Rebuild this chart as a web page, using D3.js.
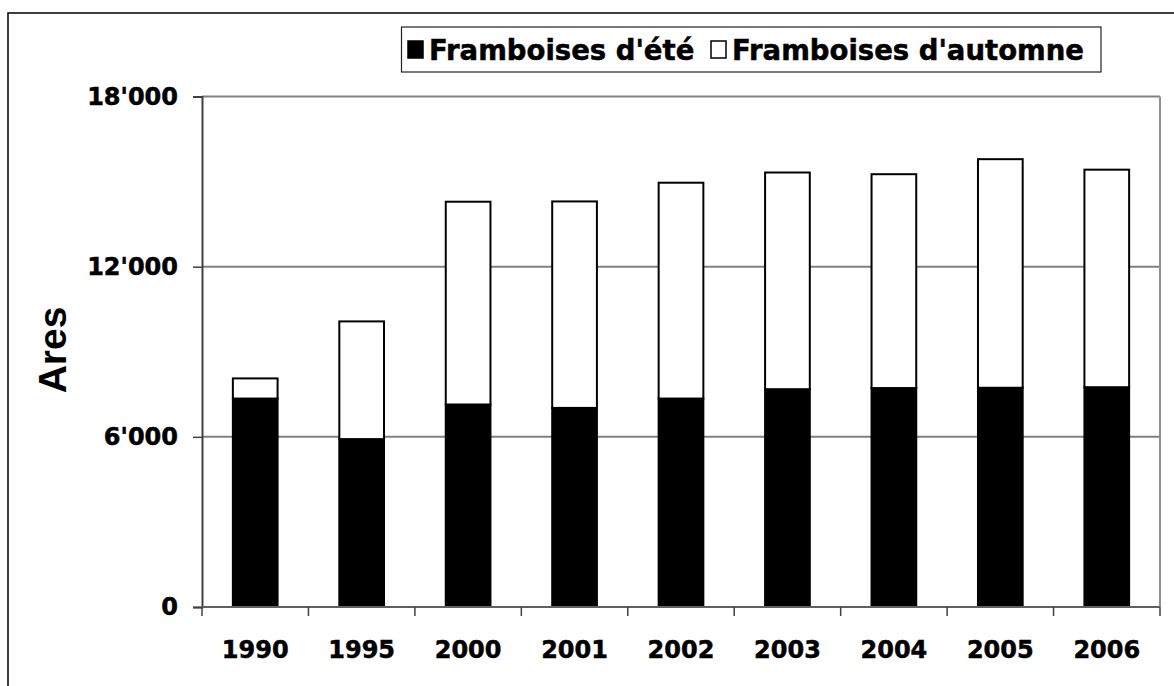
<!DOCTYPE html>
<html lang="fr">
<head>
    <meta charset="UTF-8">
    <title>Framboises - surfaces</title>
    <script src="https://cdnjs.cloudflare.com/ajax/libs/d3/7.8.5/d3.min.js"></script>
    <style>
        html, body { margin: 0; padding: 0; background: #fff; }
        svg { display: block; }
        .lbl { font-family: "DejaVu Sans", Verdana, sans-serif; font-weight: bold; fill: #000; stroke: #000; stroke-width: 0.5px; }
    </style>
</head>
<body>
    <svg id="chart" width="1174" height="686"></svg>

    <script>
        // data (ares)
        const years = ["1990", "1995", "2000", "2001", "2002", "2003", "2004", "2005", "2006"];
        const summer = [7350, 5920, 7140, 7020, 7350, 7680, 7720, 7730, 7750];
        const autumn = [710, 4150, 7150, 7280, 7610, 7640, 7540, 8060, 7670];
        const seriesNames = ["Framboises d'été", "Framboises d'automne"];
        const yTicks = [0, 6000, 12000, 18000];

        const svg = d3.select("#chart");
        const plotL = 202, plotR = 1160, plotT = 96.5, plotB = 607;

        // outer frame (runs off the page on the right / bottom)
        svg.append("rect")
            .attr("x", 8).attr("y", 13)
            .attr("width", 1200).attr("height", 720)
            .attr("fill", "none").attr("stroke", "#000").attr("stroke-width", 1.5);

        const x = d3.scaleBand().domain(years).range([plotL, plotR]).padding(0);
        const y = d3.scaleLinear().domain([0, 18000]).range([plotB, plotT]);
        const barW = x.bandwidth() * 0.42;

        // gridlines
        svg.append("g")
            .selectAll("line")
            .data(yTicks.filter(d => d > 0))
            .enter()
            .append("line")
            .attr("x1", plotL).attr("x2", plotR)
            .attr("y1", d => y(d)).attr("y2", d => y(d))
            .attr("stroke", "#808080").attr("stroke-width", 2);

        // right border of the plot area
        svg.append("line")
            .attr("x1", plotR).attr("x2", plotR)
            .attr("y1", plotT).attr("y2", plotB)
            .attr("stroke", "#909090").attr("stroke-width", 2);

        // stacked bars
        const table = years.map((yr, i) => ({ year: yr, summer: summer[i], autumn: autumn[i] }));
        const stacked = d3.stack().keys(["summer", "autumn"])(table);
        const fills = ["#000", "#fff"];

        svg.append("g")
            .selectAll("g")
            .data(stacked)
            .enter()
            .append("g")
            .attr("fill", (d, i) => fills[i])
            .selectAll("rect")
            .data(d => d)
            .enter()
            .append("rect")
            .attr("x", d => x(d.data.year) + (x.bandwidth() - barW) / 2)
            .attr("y", d => y(d[1]))
            .attr("width", barW)
            .attr("height", d => y(d[0]) - y(d[1]))
            .attr("stroke", "#000")
            .attr("stroke-width", 2);

        // y axis
        const fmt = v => d3.format(",")(v).replace(/,/g, "'");
        const yAxis = svg.append("g")
            .attr("transform", `translate(${plotL},0)`)
            .call(d3.axisLeft(y).tickValues(yTicks).tickFormat(fmt).tickSize(9).tickPadding(15));
        yAxis.select(".domain").attr("stroke", "#404040").attr("stroke-width", 2);
        yAxis.selectAll(".tick line").attr("stroke", "#404040").attr("stroke-width", 1.5);
        yAxis.selectAll("text")
            .attr("class", "lbl")
            .style("font-size", "24px");

        // x axis: baseline + ticks between categories
        svg.append("line")
            .attr("x1", plotL).attr("x2", plotR)
            .attr("y1", plotB).attr("y2", plotB)
            .attr("stroke", "#606060").attr("stroke-width", 2);

        const bounds = years.map(d => x(d)).concat([plotR]);
        svg.append("g")
            .selectAll("line")
            .data(bounds)
            .enter()
            .append("line")
            .attr("x1", d => d).attr("x2", d => d)
            .attr("y1", plotB).attr("y2", plotB + 9)
            .attr("stroke", "#404040").attr("stroke-width", 1.5);

        svg.append("g")
            .selectAll("text")
            .data(years)
            .enter()
            .append("text")
            .attr("class", "lbl")
            .attr("x", d => x(d) + x.bandwidth() / 2)
            .attr("y", 658)
            .attr("text-anchor", "middle")
            .style("font-size", "24px")
            .text(d => d);

        // y title
        svg.append("text")
            .attr("transform", "translate(66,350) rotate(-90)")
            .attr("text-anchor", "middle")
            .style("font-family", "'Liberation Sans', Arial, sans-serif")
            .style("font-weight", "bold")
            .style("font-size", "39px")
            .text("Ares");

        // legend
        const legend = svg.append("g");
        legend.append("rect")
            .attr("x", 401.5).attr("y", 27)
            .attr("width", 699.5).attr("height", 45)
            .attr("fill", "#fff").attr("stroke", "#222").attr("stroke-width", 1.2);

        const legX = [408, 711];
        const items = legend.selectAll("g")
            .data(seriesNames)
            .enter()
            .append("g")
            .attr("transform", (d, i) => `translate(${legX[i]},0)`);
        items.append("rect")
            .attr("x", 0).attr("y", 41)
            .attr("width", 15).attr("height", 17)
            .attr("fill", (d, i) => fills[i])
            .attr("stroke", "#000").attr("stroke-width", 1.5);
        items.append("text")
            .attr("class", "lbl")
            .attr("x", 21).attr("y", 60)
            .style("font-size", "27.5px")
            .text(d => d);
    </script>
</body>
</html>
